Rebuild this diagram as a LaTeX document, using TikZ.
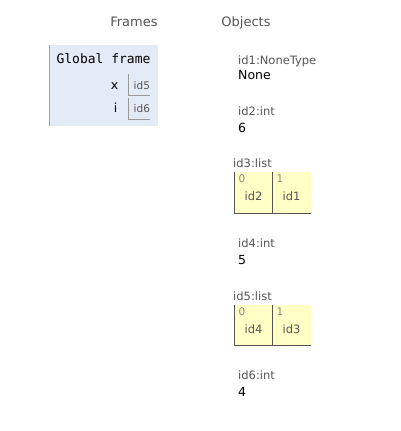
\documentclass[tikz,border=0pt]{standalone}
\usepackage{fontspec}
\setmainfont{DejaVu Sans}
\newfontfamily\monofont{DejaVu Sans Mono}
\definecolor{framebg}{HTML}{E2EBF6}
\definecolor{frameedge}{HTML}{A0A0A0}
\definecolor{listbg}{HTML}{FFFFC6}
\definecolor{listedge}{HTML}{555555}
\definecolor{lbl}{HTML}{555555}
\definecolor{idx}{HTML}{888888}
\definecolor{refedge}{HTML}{999999}
\tikzset{
  heading/.style={font=\fontsize{13}{15}\selectfont, text=lbl, anchor=base, inner sep=0pt},
  typelabel/.style={font=\fontsize{11.5}{13}\selectfont, text=lbl, anchor=base west, inner sep=0pt},
  valtext/.style={font=\fontsize{12.5}{14}\selectfont, text=black, anchor=base west, inner sep=0pt},
  varname/.style={font=\fontsize{12.5}{14}\selectfont, anchor=base, inner sep=0pt},
  reftext/.style={font=\fontsize{10.5}{12}\selectfont, text=lbl, anchor=base west, inner sep=0pt},
  idxtext/.style={font=\fontsize{10.5}{12}\selectfont, text=idx, anchor=base west, inner sep=0pt},
  elemtext/.style={font=\fontsize{11.5}{13}\selectfont, text=lbl, anchor=base, inner sep=0pt},
}
\begin{document}
\begin{tikzpicture}[x=1pt,y=-1pt]
\useasboundingbox (0,0) rectangle (400,431);
% headings
\node[heading] (hframes) at (134,27) {Frames};
\node[heading] (hobjects) at (246,27) {Objects};
% global frame
\fill[framebg] (49,45) rectangle (158,126);
\draw[frameedge] (49,45) -- (49,126);
\node[font=\monofont\fontsize{13}{15}\selectfont, anchor=base, inner sep=0pt] (gf) at (103.5,63) {Global frame};
\node[varname] (vx) at (114.5,89) {x};
\node[varname] (vi) at (115.5,112.5) {i};
\draw[refedge] (128.5,74) -- (128.5,95.5) -- (150,95.5);
\node[reftext] (r5) at (133.5,89) {id5};
\draw[refedge] (128.5,98) -- (128.5,119.5) -- (150,119.5);
\node[reftext] (r6) at (133.5,112.5) {id6};
% objects
\node[typelabel] (t1) at (238,64) {id1:NoneType};
\node[valtext] (v1) at (238,79) {None};
\node[typelabel] (t2) at (238,115.5) {id2:int};
\node[valtext] (v2) at (238,132) {6};
% list id3
\node[typelabel] (t3) at (233,167) {id3:list};
\fill[listbg] (234,172) rectangle (310.5,213);
\draw[listedge, thick] (234,172) -- (234,213) -- (310.5,213);
\draw[listedge, thick] (272,172) -- (272,213);
\node[idxtext] (i30) at (238.5,182) {0};
\node[idxtext] (i31) at (276.5,182) {1};
\node[elemtext] (e30) at (253.5,200.5) {id2};
\node[elemtext] (e31) at (291.5,200.5) {id1};
% int id4
\node[typelabel] (t4) at (238,247) {id4:int};
\node[valtext] (v4) at (238,264.5) {5};
% list id5
\node[typelabel] (t5) at (233,300) {id5:list};
\fill[listbg] (234,305) rectangle (310.5,345.5);
\draw[listedge, thick] (234,305) -- (234,345.5) -- (310.5,345.5);
\draw[listedge, thick] (272,305) -- (272,345.5);
\node[idxtext] (i50) at (238.5,315) {0};
\node[idxtext] (i51) at (276.5,315) {1};
\node[elemtext] (e50) at (253.5,333.5) {id4};
\node[elemtext] (e51) at (291.5,333.5) {id3};
% int id6
\node[typelabel] (t6) at (238,379.5) {id6:int};
\node[valtext] (v6) at (238,396) {4};
\end{tikzpicture}
\end{document}
